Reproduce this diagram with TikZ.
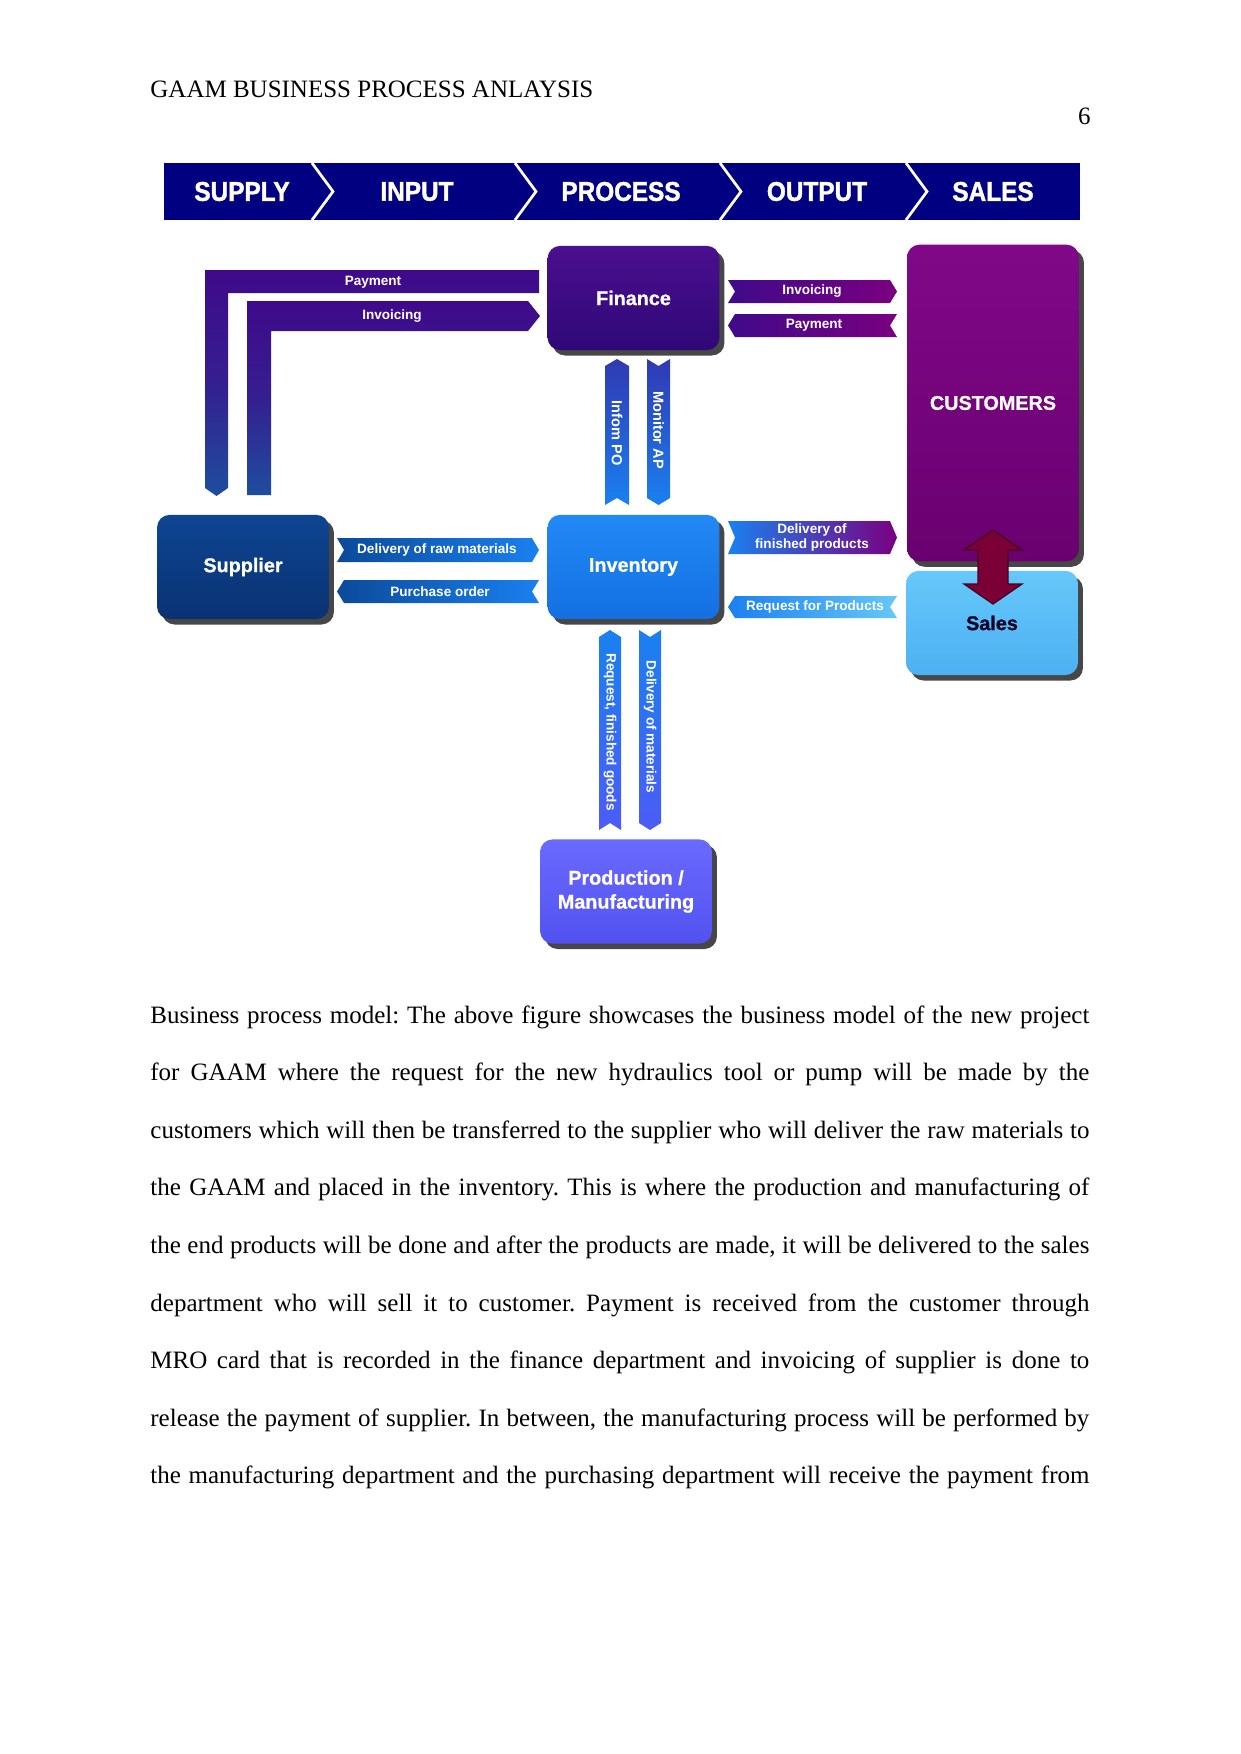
\documentclass[tikz,border=0pt]{standalone}
\usepackage{fontspec}
\usepackage{graphicx}
\setmainfont{Liberation Serif}
\newfontfamily\bannerfont{Liberation Sans Bold}[FakeBold=1.5,FakeStretch=0.9]
\newfontfamily\boxfont{Liberation Sans Bold}[FakeBold=0.8]
\newfontfamily\ribfont{Liberation Sans Bold}
\usetikzlibrary{shadows}
\definecolor{navy}{HTML}{000080}
\definecolor{finT}{HTML}{4B0F8F}
\definecolor{finB}{HTML}{2E0877}
\definecolor{cusT}{HTML}{800888}
\definecolor{cusB}{HTML}{6A0070}
\definecolor{salT}{HTML}{66C8FA}
\definecolor{salB}{HTML}{4CB0F2}
\definecolor{supT}{HTML}{0E4592}
\definecolor{supB}{HTML}{0A3272}
\definecolor{invT}{HTML}{2289F6}
\definecolor{invB}{HTML}{1470E2}
\definecolor{proT}{HTML}{6A6AFF}
\definecolor{proB}{HTML}{5252F0}
\definecolor{ribPurple}{HTML}{3F0A8A}
\definecolor{ribMagenta}{HTML}{7A0080}
\definecolor{ribNavy}{HTML}{0B4A9A}
\definecolor{ribBlue}{HTML}{1A80F0}
\definecolor{ribLight}{HTML}{66C8F8}
\definecolor{ribLBlue}{HTML}{1E4E9E}
\definecolor{ribViolet}{HTML}{4C5CF6}
\definecolor{arrRed}{HTML}{7A0035}
\definecolor{arrEdge}{HTML}{4A001E}
\frenchspacing
\begin{document}
\begin{tikzpicture}[x=0.48pt,y=-0.48pt,
  box/.style={rounded corners=6pt, inner sep=0pt, minimum width=82.5pt, minimum height=50pt,
    drop shadow={shadow xshift=2.4pt, shadow yshift=-2.6pt, opacity=0.8, fill=black!90},
    text=white, font=\boxfont\fontsize{9.5}{11.5}\selectfont, align=center},
  banner/.style={text=white, font=\bannerfont\fontsize{13}{15}\selectfont, inner sep=0pt},
  rib/.style={font=\ribfont\fontsize{6.5}{7.5}\selectfont, text=white, inner sep=0pt, align=center},
  vrib/.style={rib, rotate=-90},
  bodyline/.style={anchor=base west, inner sep=0pt, font=\fontsize{12}{14}\selectfont}]

\useasboundingbox (0,0) rectangle (1241,1754);
\fill[white] (0,0) rectangle (1241,1754);

% header
\node[anchor=base west, inner sep=0pt, font=\fontsize{12}{14}\selectfont] (hdr) at (150,97) {GAAM BUSINESS PROCESS ANLAYSIS};
\node[anchor=base east, inner sep=0pt, font=\fontsize{12}{14}\selectfont] (pgno) at (1091,124) {6};

% banner
\fill[navy] (164,163) rectangle (1080,220);
\foreach \sx in {312,515,720,906}{
  \draw[white, line width=1.3pt] (\sx,163) -- (\sx+21,191.5) -- (\sx,220);
}
\node[banner] (bsupply) at (242,191.5) {SUPPLY};
\node[banner] (binput) at (417,191.5) {INPUT};
\node[banner] (bprocess) at (621,191.5) {PROCESS};
\node[banner] (boutput) at (817,191.5) {OUTPUT};
\node[banner] (bsales) at (993,191.5) {SALES};

% boxes
\node[box, top color=finT, bottom color=finB] (fin) at (633.5,298) {Finance};
\node[box, top color=cusT, bottom color=cusB, minimum height=152pt] (cus) at (993,403) {CUSTOMERS};
\node[box, top color=supT, bottom color=supB] (sup) at (243,567) {Supplier};
\node[box, top color=invT, bottom color=invB] (inv) at (633.5,567) {Inventory};
\node[box, top color=salT, bottom color=salB, text={black!85!blue}] (sal) at (992,623) {Sales};
\node[box, top color=proT, bottom color=proB] (pro) at (626,891.5) {Production /\\Manufacturing};

% L-shaped ribbons (Finance <-> Supplier)
\shade[top color=ribPurple, bottom color=ribLBlue, middle color=ribPurple!70!ribLBlue]
  (539,270) -- (205,270) -- (205,488) -- (216.5,496) -- (228,488) -- (228,293) -- (539,293) -- cycle;
\shade[top color=ribPurple, bottom color=ribLBlue, middle color=ribPurple!70!ribLBlue]
  (247,301) -- (528,301) -- (540,316) -- (528,331) -- (271,331) -- (271,495) -- (247,495) -- cycle;
\node[rib] (tpay1) at (373,282) {Payment};
\node[rib] (tinv1) at (392,316) {Invoicing};

% Finance <-> Customers
\shade[left color=ribPurple, right color=ribMagenta]
  (728,280) -- (890,280) -- (897,291.5) -- (890,303) -- (728,303) -- (735,291.5) -- cycle;
\shade[left color=ribPurple, right color=ribMagenta]
  (735,314) -- (897,314) -- (890,325.5) -- (897,337) -- (735,337) -- (728,325.5) -- cycle;
\node[rib] (tinv2) at (812,291.5) {Invoicing};
\node[rib] (tpay2) at (814,325.5) {Payment};

% Supplier <-> Inventory
\shade[left color=ribNavy, right color=ribBlue]
  (337,538) -- (532,538) -- (539,550) -- (532,562) -- (337,562) -- (344,550) -- cycle;
\shade[left color=ribNavy, right color=ribBlue]
  (344,580) -- (539,580) -- (532,591.5) -- (539,603) -- (344,603) -- (337,591.5) -- cycle;
\node[rib] (tdraw) at (437,550) {Delivery of raw materials};
\node[rib] (tpo) at (440,591.5) {Purchase order};

% Inventory <-> Customers
\shade[left color=ribBlue, right color=ribMagenta]
  (728,521) -- (890,521) -- (897,537.5) -- (890,554) -- (728,554) -- (735,537.5) -- cycle;
\shade[left color=ribBlue, right color=ribLight]
  (735,596) -- (897,596) -- (890,607) -- (897,618) -- (735,618) -- (728,607) -- cycle;
\node[rib, font=\ribfont\fontsize{6.5}{7.2}\selectfont] (tdfp) at (812,537.5) {Delivery of\\finished products};
\node[rib, font=\ribfont\fontsize{6.5}{7.5}\selectfont] (trfp) at (815,607) {Request for Products};

% Finance <-> Inventory
\shade[top color=ribPurple!60!ribBlue, bottom color=ribBlue]
  (605,366) -- (617,359) -- (629,366) -- (629,505) -- (617,498) -- (605,505) -- cycle;
\shade[top color=ribPurple!60!ribBlue, bottom color=ribBlue]
  (647,359) -- (658.5,366) -- (670,359) -- (670,498) -- (658.5,505) -- (647,498) -- cycle;
\node[vrib, font=\ribfont\fontsize{7}{8}\selectfont] (tipo) at (617,433) {Infom PO};
\node[vrib, font=\ribfont\fontsize{7}{8}\selectfont] (tmap) at (658.5,430) {Monitor AP};

% Inventory <-> Production
\shade[top color=ribBlue, bottom color=ribViolet]
  (599,637) -- (610,630) -- (621,637) -- (621,830) -- (610,823) -- (599,830) -- cycle;
\shade[top color=ribBlue, bottom color=ribViolet]
  (639,630) -- (650,637) -- (661,630) -- (661,823) -- (650,830) -- (639,823) -- cycle;
\node[vrib] (trfg) at (610,732) {Request, finished goods};
\node[vrib] (tdom) at (650,727) {Delivery of materials};

% Customers <-> Sales double arrow
\filldraw[fill=arrRed, draw=arrEdge, line width=0.6pt]
  (993,530) -- (1022,550) -- (1008,550) -- (1008,584) -- (1022,584) -- (993,604)
  -- (964,584) -- (978,584) -- (978,550) -- (964,550) -- cycle;

% body text
\foreach \n/\yy/\t in {
  l1/1023/{Business process model: The above figure showcases the business model of the new project},
  l2/1080.6/{for GAAM where the request for the new hydraulics tool or pump will be made by the},
  l3/1138.2/{customers which will then be transferred to the supplier who will deliver the raw materials to},
  l4/1195.8/{the GAAM and placed in the inventory. This is where the production and manufacturing of},
  l5/1253.4/{the end products will be done and after the products are made, it will be delivered to the sales},
  l6/1311/{department who will sell it to customer. Payment is received from the customer through},
  l7/1368.6/{MRO card that is recorded in the finance department and invoicing of supplier is done to},
  l8/1426.2/{release the payment of supplier. In between, the manufacturing process will be performed by},
  l9/1483.8/{the manufacturing department and the purchasing department will receive the payment from}}{
  \node[bodyline] (\n) at (150,\yy) {\makebox[450.7pt][s]{\t}};
}
\end{tikzpicture}
\end{document}
